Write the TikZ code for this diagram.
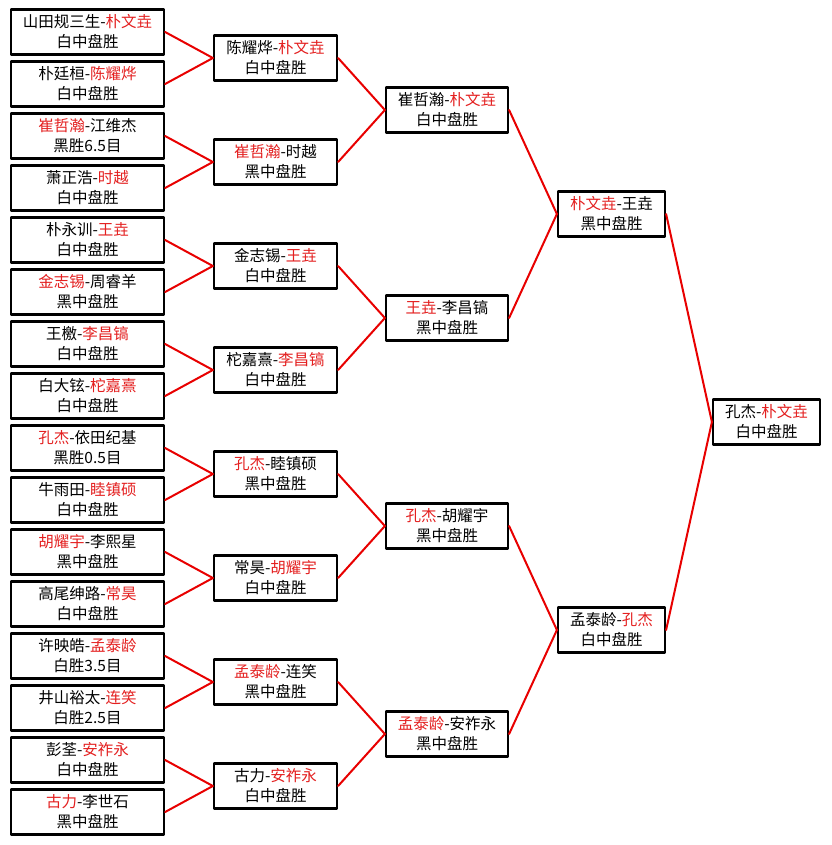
\documentclass[tikz,border=0pt]{standalone}
\usepackage{fontspec}
\usepackage{tikz}
\newfontfamily\cjk{Noto Sans CJK SC}
\definecolor{winred}{RGB}{228,32,32}
\definecolor{linkred}{RGB}{232,0,0}
\newcommand{\wn}[1]{\textcolor{winred}{#1}}

\begin{document}
\begin{tikzpicture}[line cap=round,line join=round,x=1pt,y=-1pt,
    game/.style={draw=black,line width=2.2pt,fill=white,align=center,inner sep=0pt,
        font=\cjk\fontsize{15.5}{20}\selectfont,minimum height=45pt},
    r1/.style={game,minimum width=153pt},
    r2/.style={game,minimum width=123pt},
    r3/.style={game,minimum width=122pt},
    r4/.style={game,minimum width=107pt},
    link/.style={draw=linkred,line width=2pt}]
        \useasboundingbox (0,0) rectangle (831,845);
        % first round
        \node[r1] (a1) at (87.5,32) {山田规三生-\wn{朴文垚}\\白中盘胜};
        \node[r1] (a2) at (87.5,84) {朴廷桓-\wn{陈耀烨}\\白中盘胜};
        \node[r1] (a3) at (87.5,136) {\wn{崔哲瀚}-江维杰\\黑胜6.5目};
        \node[r1] (a4) at (87.5,188) {萧正浩-\wn{时越}\\白中盘胜};
        \node[r1] (a5) at (87.5,240) {朴永训-\wn{王垚}\\白中盘胜};
        \node[r1] (a6) at (87.5,292) {\wn{金志锡}-周睿羊\\黑中盘胜};
        \node[r1] (a7) at (87.5,344) {王檄-\wn{李昌镐}\\白中盘胜};
        \node[r1] (a8) at (87.5,396) {白大铉-\wn{柁嘉熹}\\白中盘胜};
        \node[r1] (a9) at (87.5,448) {\wn{孔杰}-依田纪基\\黑胜0.5目};
        \node[r1] (a10) at (87.5,500) {牛雨田-\wn{睦镇硕}\\白中盘胜};
        \node[r1] (a11) at (87.5,552) {\wn{胡耀宇}-李熙星\\黑中盘胜};
        \node[r1] (a12) at (87.5,604) {高尾绅路-\wn{常昊}\\白中盘胜};
        \node[r1] (a13) at (87.5,656) {许映皓-\wn{孟泰龄}\\白胜3.5目};
        \node[r1] (a14) at (87.5,708) {井山裕太-\wn{连笑}\\白胜2.5目};
        \node[r1] (a15) at (87.5,760) {彭荃-\wn{安祚永}\\白中盘胜};
        \node[r1] (a16) at (87.5,812) {\wn{古力}-李世石\\黑中盘胜};
        % second round
        \node[r2] (b1) at (275.5,58) {陈耀烨-\wn{朴文垚}\\白中盘胜};
        \node[r2] (b2) at (275.5,162) {\wn{崔哲瀚}-时越\\黑中盘胜};
        \node[r2] (b3) at (275.5,266) {金志锡-\wn{王垚}\\白中盘胜};
        \node[r2] (b4) at (275.5,370) {柁嘉熹-\wn{李昌镐}\\白中盘胜};
        \node[r2] (b5) at (275.5,474) {\wn{孔杰}-睦镇硕\\黑中盘胜};
        \node[r2] (b6) at (275.5,578) {常昊-\wn{胡耀宇}\\白中盘胜};
        \node[r2] (b7) at (275.5,682) {\wn{孟泰龄}-连笑\\黑中盘胜};
        \node[r2] (b8) at (275.5,786) {古力-\wn{安祚永}\\白中盘胜};
        % quarter finals
        \node[r3] (c1) at (447,110) {崔哲瀚-\wn{朴文垚}\\白中盘胜};
        \node[r3] (c2) at (447,318) {\wn{王垚}-李昌镐\\黑中盘胜};
        \node[r3] (c3) at (447,526) {\wn{孔杰}-胡耀宇\\黑中盘胜};
        \node[r3] (c4) at (447,734) {\wn{孟泰龄}-安祚永\\黑中盘胜};
        % semi finals
        \node[r4] (d1) at (611.5,214) {\wn{朴文垚}-王垚\\黑中盘胜};
        \node[r4] (d2) at (611.5,630) {孟泰龄-\wn{孔杰}\\白中盘胜};
        % final
        \node[r4] (e1) at (766.5,422) {孔杰-\wn{朴文垚}\\白中盘胜};
        % connectors
        \draw[link] (a1.east) -- (b1.west);
        \draw[link] (a2.east) -- (b1.west);
        \draw[link] (a3.east) -- (b2.west);
        \draw[link] (a4.east) -- (b2.west);
        \draw[link] (a5.east) -- (b3.west);
        \draw[link] (a6.east) -- (b3.west);
        \draw[link] (a7.east) -- (b4.west);
        \draw[link] (a8.east) -- (b4.west);
        \draw[link] (a9.east) -- (b5.west);
        \draw[link] (a10.east) -- (b5.west);
        \draw[link] (a11.east) -- (b6.west);
        \draw[link] (a12.east) -- (b6.west);
        \draw[link] (a13.east) -- (b7.west);
        \draw[link] (a14.east) -- (b7.west);
        \draw[link] (a15.east) -- (b8.west);
        \draw[link] (a16.east) -- (b8.west);
        \draw[link] (b1.east) -- (c1.west);
        \draw[link] (b2.east) -- (c1.west);
        \draw[link] (b3.east) -- (c2.west);
        \draw[link] (b4.east) -- (c2.west);
        \draw[link] (b5.east) -- (c3.west);
        \draw[link] (b6.east) -- (c3.west);
        \draw[link] (b7.east) -- (c4.west);
        \draw[link] (b8.east) -- (c4.west);
        \draw[link] (c1.east) -- (d1.west);
        \draw[link] (c2.east) -- (d1.west);
        \draw[link] (c3.east) -- (d2.west);
        \draw[link] (c4.east) -- (d2.west);
        \draw[link] (d1.east) -- (e1.west);
        \draw[link] (d2.east) -- (e1.west);
    \end{tikzpicture}
\end{document}
